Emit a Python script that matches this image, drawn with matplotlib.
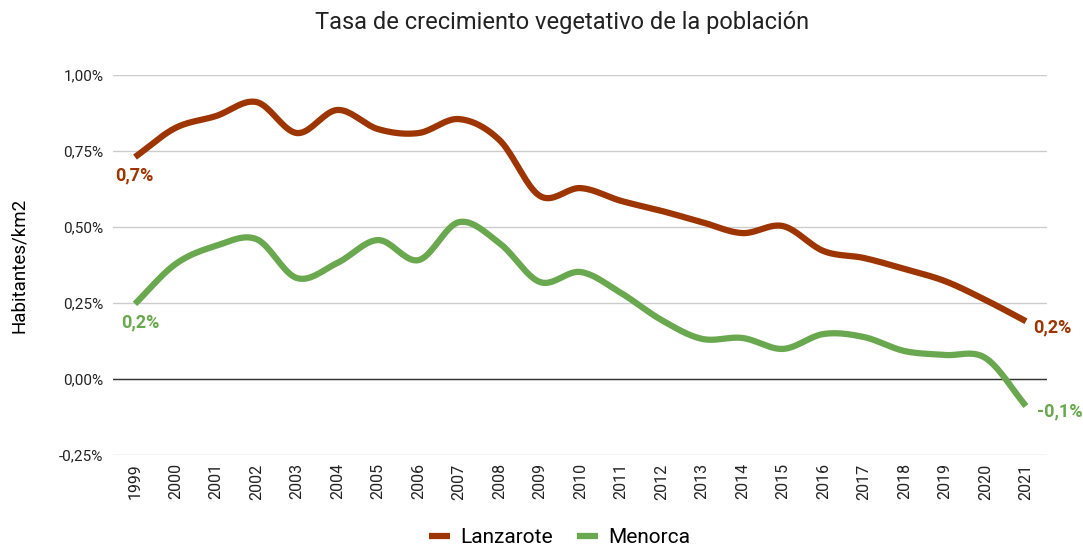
import matplotlib.pyplot as plt
import matplotlib.ticker as mticker
import numpy as np

plt.rcParams['font.family'] = ['Roboto', 'DejaVu Sans']

years = list(range(1999, 2022))
lanzarote = [0.730, 0.826, 0.865, 0.911, 0.809, 0.885, 0.822, 0.809, 0.855, 0.786,
             0.602, 0.628, 0.586, 0.553, 0.516, 0.480, 0.503, 0.421, 0.398, 0.362,
             0.322, 0.260, 0.190]
menorca = [0.247, 0.378, 0.438, 0.460, 0.332, 0.382, 0.457, 0.391, 0.516, 0.447,
           0.319, 0.352, 0.283, 0.194, 0.132, 0.135, 0.099, 0.148, 0.138, 0.092,
           0.079, 0.069, -0.089]
lanz_label = "0,7%"
lanz_end = "0,2%"
men_label = "0,2%"
men_end = "-0,1%"


def smooth(x, y, n=20):
    # catmull-rom style hermite curve through the points
    x = np.asarray(x, float)
    y = np.asarray(y, float) / 100
    m = np.gradient(y, x)
    xs, ys = [], []
    for i in range(len(x) - 1):
        h = x[i + 1] - x[i]
        t = np.linspace(0, 1, n, endpoint=False)
        h00 = 2 * t**3 - 3 * t**2 + 1
        h10 = t**3 - 2 * t**2 + t
        h01 = -2 * t**3 + 3 * t**2
        h11 = t**3 - t**2
        xs.append(x[i] + t * h)
        ys.append(h00 * y[i] + h10 * h * m[i] + h01 * y[i + 1] + h11 * h * m[i + 1])
    xs.append([x[-1]])
    ys.append([y[-1]])
    return np.concatenate(xs), np.concatenate(ys)


c_lz = "#9c3500"
c_mn = "#6aa84f"

fig = plt.figure(figsize=(10.83, 5.45), dpi=100)
ax = fig.add_axes([113 / 1083, 1 - 455 / 545, 934 / 1083, 380 / 545])

xl, yl = smooth(years, lanzarote)
xm, ym = smooth(years, menorca)
ax.plot(xl, yl, color=c_lz, lw=4.5, solid_capstyle='butt', label="Lanzarote", zorder=3)
ax.plot(xm, ym, color=c_mn, lw=4.5, solid_capstyle='butt', label="Menorca", zorder=3)

ax.axhline(0, color="#333333", lw=1, zorder=2)
ax.set_xlim(1999 - 0.543, 2021 + 0.519)
ax.set_ylim(-0.0025, 0.0100)
ax.yaxis.set_major_locator(mticker.MultipleLocator(0.0025))
ax.yaxis.set_major_formatter(mticker.FuncFormatter(lambda v, p: f"{v*100:.2f}%".replace(".", ",")))
ax.set_xticks(years)
ax.set_xticklabels([str(y) for y in years], rotation=90, fontsize=11.5, color="#222222")
ax.tick_params(axis='y', labelsize=11, colors="#222222", length=0, pad=7)
ax.tick_params(axis='x', length=0, pad=6)
ax.grid(axis='y', color="#cccccc", lw=1)
for s in ax.spines.values():
    s.set_visible(False)
ax.set_axisbelow(True)

ax.set_ylabel("Habitantes/km2", fontsize=13.5, labelpad=22)

lbl = dict(textcoords='offset points', fontsize=13, fontweight='bold', ha='left', va='center')
ax.annotate(lanz_label, (years[0], lanzarote[0] / 100), xytext=(-14.5, -13.5), color=c_lz, **lbl)
ax.annotate(men_label, (years[0], menorca[0] / 100), xytext=(-10, -13), color=c_mn, **lbl)
ax.annotate(lanz_end, (years[-1], lanzarote[-1] / 100), xytext=(5, -4.5), color=c_lz, **lbl)
ax.annotate(men_end, (years[-1], menorca[-1] / 100), xytext=(8, -4), color=c_mn, **lbl)

fig.suptitle("Tasa de crecimiento vegetativo de la población", fontsize=17, x=0.519, y=0.98,
             color="#222222")
fig.legend(loc='lower center', ncol=2, frameon=False, fontsize=15, bbox_to_anchor=(0.517, -0.038),
           handlelength=1.0, handletextpad=0.5, columnspacing=1.15)

fig.savefig("out.png", dpi=100)
